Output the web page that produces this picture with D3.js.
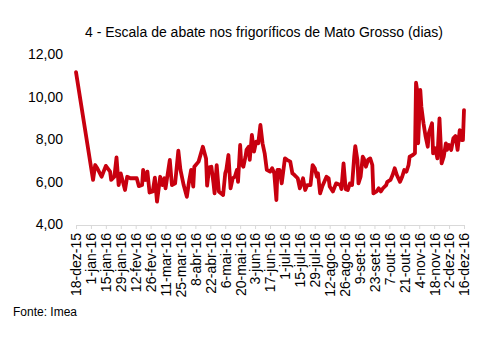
<!DOCTYPE html>
<html><head><meta charset="utf-8">
<script src="https://cdn.jsdelivr.net/npm/d3@7"></script>
<style>body{margin:0;background:#fff}svg{display:block}text{font-family:"Liberation Sans",Arial,sans-serif}</style>
</head><body>
<script>
const title = "4 - Escala de abate nos frigoríficos de Mato Grosso (dias)";
const source = "Fonte: Imea";
const dates = ["2015-12-18","2016-01-03","2016-01-05","2016-01-07","2016-01-11","2016-01-15","2016-01-19","2016-01-20","2016-01-23","2016-01-25","2016-01-27","2016-01-29","2016-01-31","2016-02-02","2016-02-04","2016-02-07","2016-02-13","2016-02-15","2016-02-18","2016-02-19","2016-02-21","2016-02-23","2016-02-25","2016-02-28","2016-03-01","2016-03-03","2016-03-06","2016-03-08","2016-03-10","2016-03-11","2016-03-15","2016-03-17","2016-03-20","2016-03-23","2016-03-25","2016-03-28","2016-03-31","2016-04-02","2016-04-04","2016-04-06","2016-04-07","2016-04-11","2016-04-15","2016-04-18","2016-04-19","2016-04-21","2016-04-23","2016-04-25","2016-04-26","2016-04-28","2016-04-30","2016-05-02","2016-05-04","2016-05-06","2016-05-07","2016-05-09","2016-05-11","2016-05-13","2016-05-15","2016-05-17","2016-05-18","2016-05-20","2016-05-21","2016-05-23","2016-05-25","2016-05-26","2016-05-28","2016-05-29","2016-05-31","2016-06-02","2016-06-04","2016-06-06","2016-06-08","2016-06-10","2016-06-12","2016-06-14","2016-06-17","2016-06-19","2016-06-21","2016-06-23","2016-06-24","2016-06-26","2016-06-28","2016-06-29","2016-07-01","2016-07-03","2016-07-06","2016-07-08","2016-07-10","2016-07-13","2016-07-15","2016-07-18","2016-07-20","2016-07-22","2016-07-25","2016-07-27","2016-07-29","2016-07-31","2016-08-01","2016-08-03","2016-08-05","2016-08-09","2016-08-11","2016-08-12","2016-08-15","2016-08-18","2016-08-22","2016-08-23","2016-08-25","2016-08-27","2016-08-29","2016-08-31","2016-09-02","2016-09-04","2016-09-05","2016-09-07","2016-09-08","2016-09-10","2016-09-12","2016-09-13","2016-09-15","2016-09-17","2016-09-19","2016-09-21","2016-09-22","2016-09-25","2016-09-27","2016-09-29","2016-10-01","2016-10-04","2016-10-05","2016-10-08","2016-10-10","2016-10-12","2016-10-14","2016-10-17","2016-10-19","2016-10-21","2016-10-23","2016-10-25","2016-10-26","2016-10-29","2016-10-31","2016-11-01","2016-11-02","2016-11-03","2016-11-05","2016-11-06","2016-11-08","2016-11-10","2016-11-12","2016-11-13","2016-11-16","2016-11-17","2016-11-19","2016-11-21","2016-11-23","2016-11-25","2016-11-27","2016-11-29","2016-11-30","2016-12-02","2016-12-04","2016-12-06","2016-12-08","2016-12-10","2016-12-12","2016-12-14","2016-12-15","2016-12-16"];
const values = [11.15,6.09,6.79,6.64,6.24,6.75,6.48,6.09,6.24,7.15,5.85,6.4,6.0,5.62,6.24,6.17,6.17,5.8,5.85,6.56,6.09,6.48,5.5,5.55,6.2,5.07,6.24,5.85,6.17,5.7,7.03,5.85,5.93,7.46,6.56,5.85,5.3,6.0,6.56,5.78,6.71,6.95,7.65,7.1,5.82,6.68,6.71,5.93,5.46,6.79,5.55,5.46,5.38,6.4,6.56,7.26,5.7,6.17,6.24,6.56,6.0,7.73,6.87,6.71,7.18,7.5,7.65,7.03,8.2,7.42,7.89,7.81,8.67,7.81,7.34,6.56,6.48,6.64,6.4,5.15,6.56,6.56,5.93,6.32,7.1,7.03,6.95,6.4,6.32,6.17,5.7,6.17,5.62,5.85,5.85,6.79,6.64,6.24,6.4,5.46,5.78,6.24,6.17,5.78,5.55,5.93,5.85,5.66,6.87,5.66,5.62,5.93,5.85,7.18,7.68,7.03,5.93,6.24,7.18,7.1,6.71,7.03,7.1,6.79,5.46,5.55,5.7,5.55,5.7,5.85,6.0,6.09,6.32,6.64,6.32,6.0,6.24,6.56,6.48,6.79,7.18,7.26,7.34,10.65,10.31,7.81,10.31,9.53,8.75,8.12,7.65,8.28,8.75,7.34,7.58,7.1,8.98,6.87,7.18,7.81,7.5,7.73,7.5,8.04,8.15,7.5,8.43,7.96,7.96,9.37];
const tickLabels = ["18-dez-15","1-jan-16","15-jan-16","29-jan-16","12-fev-16","26-fev-16","11-mar-16","25-mar-16","8-abr-16","22-abr-16","6-mai-16","20-mai-16","3-jun-16","17-jun-16","1-jul-16","15-jul-16","29-jul-16","12-ago-16","26-ago-16","9-set-16","23-set-16","7-out-16","21-out-16","4-nov-16","18-nov-16","2-dez-16","16-dez-16"];
const yTicks = [4,6,8,10,12];

const W=497,H=338;
const svg=d3.select("body").append("svg").attr("width",W).attr("height",H);
const parse=d3.utcParse("%Y-%m-%d");
const data=dates.map((d,i)=>({d:parse(d),v:values[i]}));
const t0=parse("2015-12-18"), t1=parse("2016-12-16");
const x=d3.scaleUtc().domain([t0,t1]).range([76,464]);
const y=d3.scaleLinear().domain([4,12]).range([224.5,54]);
const tickDates=tickLabels.map((_,i)=>d3.utcDay.offset(t0,14*i));
const FF='"Liberation Sans",Arial,sans-serif';

svg.append("text").attr("x",264).attr("y",37).attr("text-anchor","middle")
  .attr("font-size",14).attr("fill","#000").text(title);

// y axis labels
const yAxis=d3.axisLeft(y).tickValues(yTicks).tickSize(0).tickPadding(0)
  .tickFormat(d=>d3.format(".2f")(d).replace(".",","));
const gy=svg.append("g").attr("transform","translate(63,0)").call(yAxis);
gy.select(".domain").remove();
gy.selectAll("text").attr("font-size",14).attr("fill","#000").attr("font-family",FF);

// x axis
const xAxis=d3.axisBottom(x).tickValues(tickDates).tickSize(4).tickSizeOuter(0)
  .tickFormat((d,i)=>tickLabels[i]);
const gx=svg.append("g").attr("transform","translate(0,225)").call(xAxis);
gx.select(".domain").attr("stroke","#d9d9d9");
gx.selectAll(".tick line").attr("stroke","#d9d9d9");
gx.selectAll("text").attr("font-size",14).attr("fill","#000").attr("font-family",FF)
  .attr("transform","rotate(-90)").attr("text-anchor","end")
  .attr("x",-8).attr("y",0).attr("dy","0.35em");

// line
svg.append("path").datum(data)
  .attr("fill","none").attr("stroke","#c8000f").attr("stroke-width",3.8)
  .attr("stroke-linejoin","round").attr("stroke-linecap","round")
  .attr("d",d3.line().x(d=>x(d.d)).y(d=>y(d.v)));

svg.append("text").attr("x",13).attr("y",316).attr("font-size",12).attr("fill","#000").text(source);
</script>
</body></html>
